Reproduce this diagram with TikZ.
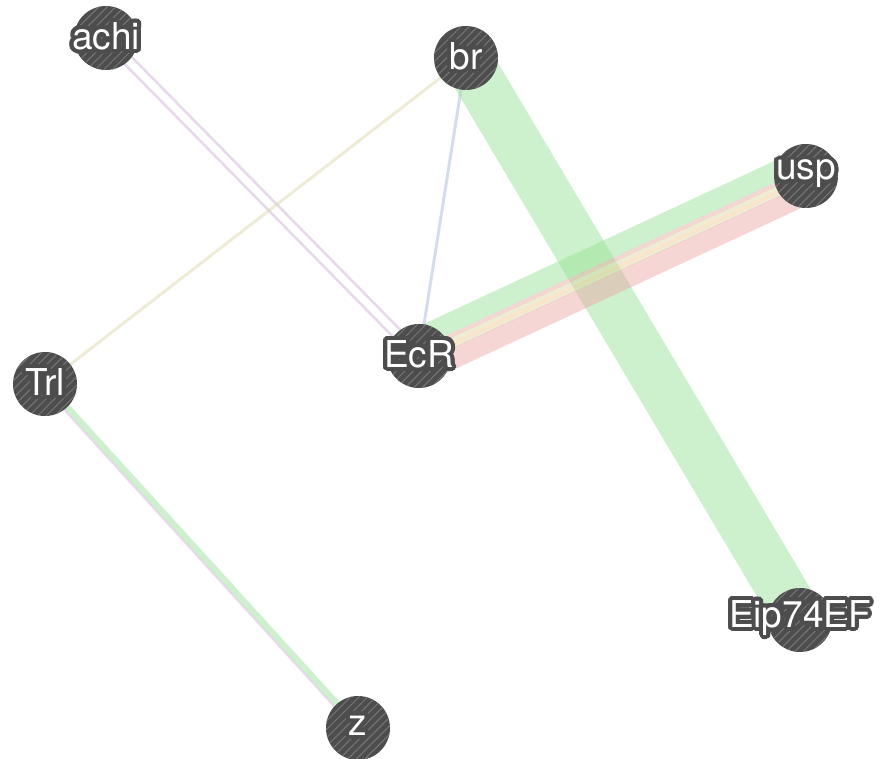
\documentclass[tikz,border=0pt]{standalone}
\usepackage{fontspec}
\setmainfont{TeX Gyre Heros}
\usepackage{xcolor}
\usepackage[copies]{contour}
\usetikzlibrary{calc,backgrounds,patterns.meta}

% interaction colours
\definecolor{genegray}{HTML}{4D4D4D}
\definecolor{genehatch}{HTML}{767676}
\definecolor{coexp}{HTML}{C9A8D2}
\definecolor{physical}{HTML}{EAA2A2}
\definecolor{genetic}{HTML}{90E190}
\definecolor{domains}{HTML}{DAD4A2}
\definecolor{coloc}{HTML}{A0B3DC}
\definecolor{predicted}{HTML}{F6C384}

\contourlength{4pt}
\contournumber{24}

\tikzset{
	gene/.style={
			circle, fill=genegray, minimum size=64pt, inner sep=0pt,
			path picture={
					\fill[pattern={Lines[angle=45,distance=6pt,line width=1pt]}, pattern color=genehatch]
					(path picture bounding box.south west) rectangle (path picture bounding box.north east);},
			label={[text=white, inner sep=0pt, font=\fontsize{37}{37}\selectfont]center:\contour{genegray}{#1}}
		},
	link/.style={line width=#1, opacity=0.45}
}

\begin{document}
\begin{tikzpicture}[x=1pt,y=-1pt]
	\useasboundingbox (0,0) rectangle (887,759);

	% genes
	\node[gene=achi] (achi) at (106,38) {};
	\node[gene=br] (br) at (466,58) {};
	\node[gene=usp] (usp) at (806,176) {};
	\node[gene=EcR] (ecr) at (419,356) {};
	\node[gene=Trl] (trl) at (45,384) {};
	\node[gene=Eip74EF] (eip) at (800,620) {};
	\node[gene=z] (z) at (358,728) {};

	\begin{scope}[on background layer]
		% co-expression achi -- EcR
		\foreach \o in {-5,5}
		\draw[link=2.5pt, coexp] ($(achi.center)!\o pt!90:(ecr.center)$) -- ($(ecr.center)!\o pt!-90:(achi.center)$);

		% br -- Trl, br -- EcR
		\draw[link=3pt, domains] (br.center) -- (trl.center);
		\draw[link=3pt, coloc] (br.center) -- (ecr.center);

		% genetic br -- Eip74EF
		\draw[link=50pt, genetic] (br.center) -- (eip.center);

		% EcR -- usp bundle
		\foreach \o/\w/\c in {17/20/genetic, 5/4/physical, 1/5/domains, -3/3/predicted, -6/3/domains, -17/20/physical}
		\draw[link=\w pt, \c] ($(ecr.center)!\o pt!90:(usp.center)$) -- ($(usp.center)!\o pt!-90:(ecr.center)$);

		% Trl -- z
		\draw[link=6pt, genetic] ($(trl.center)!1pt!90:(z.center)$) -- ($(z.center)!1pt!-90:(trl.center)$);
		\draw[link=2pt, coexp] ($(trl.center)!-3pt!90:(z.center)$) -- ($(z.center)!-3pt!-90:(trl.center)$);
	\end{scope}
\end{tikzpicture}
\end{document}
